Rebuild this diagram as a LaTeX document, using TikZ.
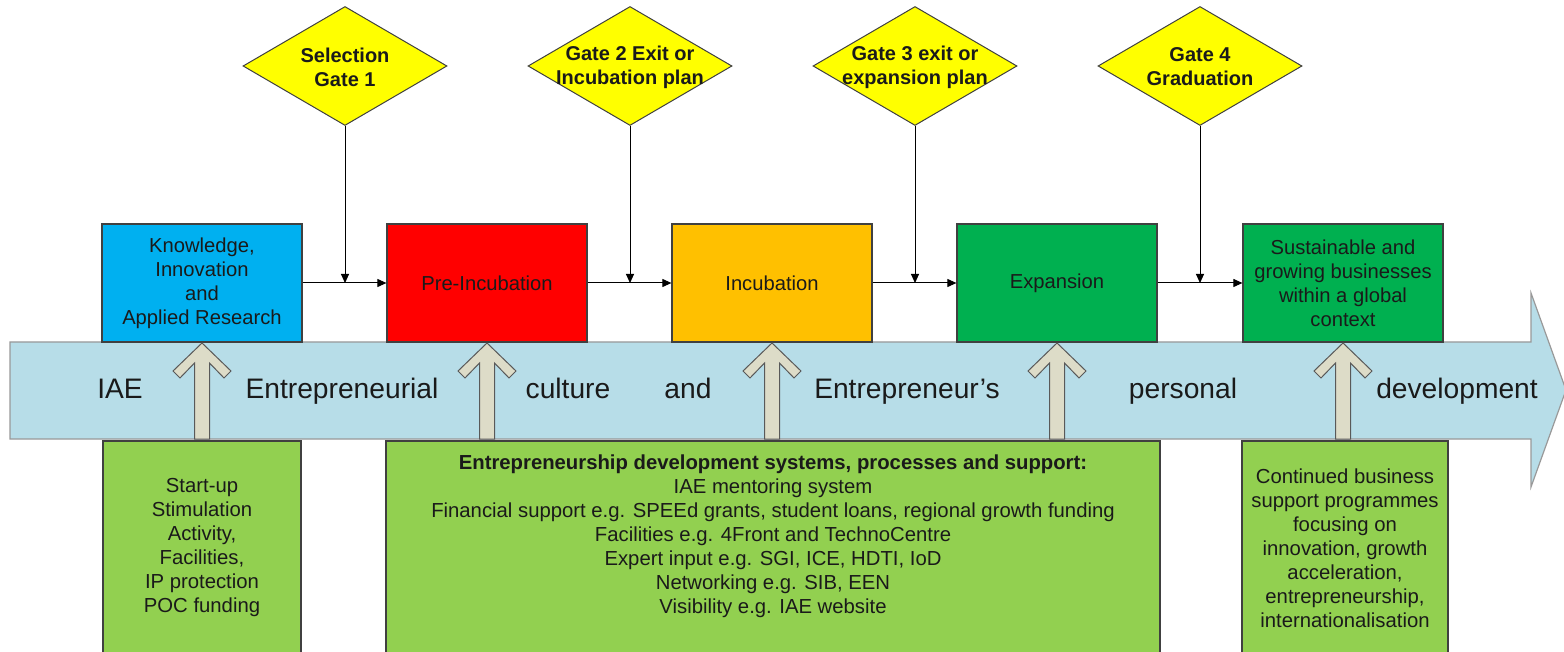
\documentclass[tikz,border=0pt]{standalone}
\usepackage{fontspec}
\setmainfont{Liberation Sans}
\usetikzlibrary{shapes.geometric,arrows.meta}
\definecolor{kblue}{HTML}{00B0F0}
\definecolor{kred}{HTML}{FF0000}
\definecolor{korange}{HTML}{FFC000}
\definecolor{kgreen}{HTML}{00B050}
\definecolor{lgreen}{HTML}{92D050}
\definecolor{gyellow}{HTML}{FFFF00}
\definecolor{arrblue}{HTML}{B7DDE8}
\definecolor{upbeige}{HTML}{DDDCC8}
\definecolor{bordc}{HTML}{404040}
\definecolor{txtc}{HTML}{1A1A1A}
\tikzset{
  stagebox/.style={draw=bordc, line width=1.2pt, rectangle, minimum width=200pt, minimum height=118pt, inner sep=0pt, align=center, text=txtc, font=\fontsize{20.2}{24}\selectfont},
  gate/.style={draw=bordc, line width=1pt, diamond, fill=gyellow, minimum width=204pt, minimum height=119pt, inner sep=0pt},
  gatetext/.style={align=center, text=txtc, font=\fontsize{20}{24}\selectfont\bfseries},
  supbox/.style={draw=bordc, line width=1.2pt, fill=lgreen},
  suptext/.style={align=center, text=txtc, font=\fontsize{20.3}{24}\selectfont},
  flow/.style={draw=black, line width=1pt, -{Triangle[length=9pt,width=8pt]}},
  bigword/.style={text=txtc, anchor=base, font=\fontsize{28.2}{30}\selectfont},
  uparr/.pic={\draw[draw=gray!70!black, line width=1pt, fill=upbeige]
     (0,0) -- (29,28) -- (22,35) -- (7.5,20) -- (7.5,96) -- (-7.5,96) -- (-7.5,20) -- (-22,35) -- (-29,28) -- cycle;}
}
\begin{document}
\begin{tikzpicture}[x=1pt,y=-1pt]
\clip (0,0) rectangle (1564,652);
\fill[white] (0,0) rectangle (1564,652);

% big background arrow
\draw[draw=gray!80, line width=1.2pt, fill=arrblue]
  (10,342) -- (1531,342) -- (1531,293) -- (1566,390) -- (1531,487) -- (1531,439) -- (10,439) -- cycle;

% words in the big arrow
\node[bigword] (w1) at (120,398) {IAE};
\node[bigword] (w2) at (342,398) {Entrepreneurial};
\node[bigword] (w3) at (568,398) {culture};
\node[bigword] (w4) at (688,398) {and};
\node[bigword] (w5) at (907,398) {Entrepreneur’s};
\node[bigword] (w6) at (1183,398) {personal};
\node[bigword] (w7) at (1457,398) {development};

% stage boxes
\node[stagebox, fill=kblue] (b1) at (202,283) {Knowledge,\\Innovation\\and\\Applied Research};
\node[stagebox, fill=kred] (b2) at (487,283) {Pre-Incubation};
\node[stagebox, fill=korange] (b3) at (772,283) {Incubation};
\node[stagebox, fill=kgreen] (b4) at (1057,283) {Expansion};
\node[stagebox, fill=kgreen] (b5) at (1343,283) {Sustainable and\\growing businesses\\within a global\\context};

% gates
\node[gate] (g1) at (345,66) {};
\node[gate] (g2) at (630,66) {};
\node[gate] (g3) at (915,66) {};
\node[gate] (g4) at (1200,66) {};
\node[gatetext] (t1) at (345,67) {Selection\\Gate 1};
\node[gatetext] (t2) at (630,67) {Gate 2 Exit or\\Incubation plan};
\node[gatetext] (t3) at (915,67) {Gate 3 exit or\\expansion plan};
\node[gatetext] (t4) at (1200,67) {Gate 4\\Graduation};

% flow connectors
\draw[flow] (b1.east) -- (b2.west);
\draw[flow] (b2.east) -- (b3.west);
\draw[flow] (b3.east) -- (b4.west);
\draw[flow] (b4.east) -- (b5.west);
\draw[flow] (g1.south) -- (g1.south |- b1.east);
\draw[flow] (g2.south) -- (g2.south |- b2.east);
\draw[flow] (g3.south) -- (g3.south |- b3.east);
\draw[flow] (g4.south) -- (g4.south |- b4.east);

% support boxes
\draw[supbox] (103,441) rectangle (301,670);
\draw[supbox] (386,441) rectangle (1160,670);
\draw[supbox] (1242,441) rectangle (1448,670);
\node[suptext] (s1) at (202,548) {Start-up\\Stimulation\\Activity,\\Facilities,\\IP protection\\POC funding};
\node[suptext] (s2) at (773,536) {\textbf{Entrepreneurship development systems, processes and support:}\\IAE mentoring system\\Financial support e.g. SPEEd grants, student loans, regional growth funding\\Facilities e.g. 4Front and TechnoCentre\\Expert input e.g. SGI, ICE, HDTI, IoD\\Networking e.g. SIB, EEN\\Visibility e.g. IAE website};
\node[suptext] (s3) at (1345,548) {Continued business\\support programmes\\focusing on\\innovation, growth\\acceleration,\\entrepreneurship,\\internationalisation};

% up arrows
\pic at (202,343) {uparr};
\pic at (487,343) {uparr};
\pic at (772,343) {uparr};
\pic at (1057,343) {uparr};
\pic at (1343,343) {uparr};
\end{tikzpicture}
\end{document}
